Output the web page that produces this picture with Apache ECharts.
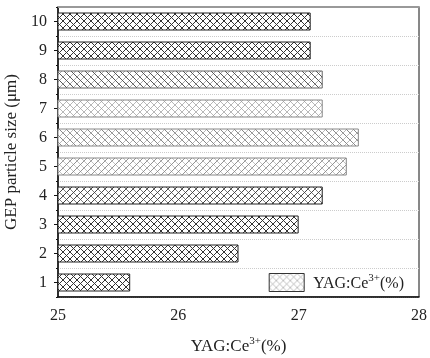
<!DOCTYPE html>
<html>
<head>
<meta charset="utf-8">
<script src="https://cdn.jsdelivr.net/npm/echarts@6/dist/echarts.min.js"></script>
<style>
  html, body { margin: 0; padding: 0; background: #fff; }
  #main { width: 430px; height: 358px; }
</style>
</head>
<body>
<div id="main"></div>
<script>
// GEP particle size (um) on the y axis, YAG:Ce3+ content on the x axis
const sizes = ['1', '2', '3', '4', '5', '6', '7', '8', '9', '10'];
const yagValues = [25.6, 26.5, 27.0, 27.2, 27.4, 27.5, 27.2, 27.2, 27.1, 27.1];
const xTicks = [25, 26, 27, 28];

const FONT = '"Liberation Serif", "DejaVu Serif", serif';

// hatch fill, fwd / back = strength of "/" and "\" lines
function hatch(fwd, back, color) {
    const n = 7;
    const c = document.createElement('canvas');
    c.width = n; c.height = n;
    const ctx = c.getContext('2d');
    ctx.fillStyle = '#fff';
    ctx.fillRect(0, 0, n, n);
    ctx.strokeStyle = color;
    ctx.lineWidth = 1;
    if (fwd > 0) {
        ctx.globalAlpha = fwd;
        ctx.beginPath();
        ctx.moveTo(-1, n + 1); ctx.lineTo(n + 1, -1);
        ctx.stroke();
    }
    if (back > 0) {
        ctx.globalAlpha = back;
        ctx.beginPath();
        ctx.moveTo(-1, -1); ctx.lineTo(n + 1, n + 1);
        ctx.stroke();
    }
    return { image: c, repeat: 'repeat' };
}

// look of each bar, bottom (1) to top (10)
const barLook = [
    [1, 1, '#333', '#222'],
    [1, 1, '#333', '#222'],
    [1, 1, '#333', '#222'],
    [1, 0.7, '#444', '#222'],
    [0.9, 0.5, '#888', '#888'],
    [0.6, 1, '#888', '#888'],
    [0.7, 0.7, '#999', '#888'],
    [0.5, 1, '#555', '#666'],
    [1, 1, '#333', '#222'],
    [1, 1, '#333', '#222']
];

const barData = yagValues.map((v, i) => ({
    value: v,
    itemStyle: {
        color: hatch(barLook[i][0], barLook[i][1], barLook[i][2]),
        borderColor: barLook[i][3],
        borderWidth: 1
    }
}));

// rich text pieces for "YAG:Ce3+(%)" with a raised 3+
const richText = (size) => ({
    b: { fontFamily: FONT, fontSize: size, color: '#222', lineHeight: 19, verticalAlign: 'bottom' },
    sup: { fontFamily: FONT, fontSize: 11, color: '#222', lineHeight: 12, verticalAlign: 'top' }
});
const yagLabel = '{b|YAG:Ce}{sup|3+}{b|(%)}';

const chart = echarts.init(document.getElementById('main'));

const option = {
    animation: false,
    backgroundColor: '#fff',
    grid: {
        left: 58, right: 11, top: 7, bottom: 61,
        outerBoundsMode: 'none',
        containLabel: false,
        show: true, borderColor: '#111', borderWidth: 1
    },
    legend: {
        right: 26, bottom: 66,
        itemWidth: 35, itemHeight: 18,
        icon: 'rect',
        padding: 0,
        textStyle: {
            fontFamily: FONT, fontSize: 16, color: '#222',
            padding: [0, 0, 0, 4],
            rich: richText(16)
        },
        formatter: () => yagLabel,
        data: [{
            name: 'YAG:Ce3+(%)',
            itemStyle: { color: hatch(0.6, 0.6, '#999'), borderColor: '#333', borderWidth: 1 }
        }]
    },
    xAxis: [{
        type: 'value',
        min: xTicks[0], max: xTicks[xTicks.length - 1], interval: 1,
        name: yagLabel,
        nameLocation: 'middle',
        nameGap: 39,
        nameTextStyle: {
            fontFamily: FONT, fontSize: 17, color: '#222',
            rich: richText(17)
        },
        axisLine: { show: true, lineStyle: { color: '#111', width: 1.5 } },
        axisTick: { show: false },
        splitLine: { show: false },
        axisLabel: { fontFamily: FONT, fontSize: 16, color: '#222', margin: 11 }
    }, {
        type: 'value',
        position: 'top',
        min: xTicks[0], max: xTicks[xTicks.length - 1], interval: 1,
        axisLine: { show: true, lineStyle: { color: '#999', width: 2 } },
        axisTick: { show: false },
        axisLabel: { show: false },
        splitLine: { show: false }
    }],
    yAxis: [{
        type: 'category',
        data: sizes,
        name: 'GEP particle size (μm)',
        nameLocation: 'middle',
        nameGap: 35,
        nameTextStyle: { fontFamily: FONT, fontSize: 17, color: '#222' },
        axisLine: { show: true, lineStyle: { color: '#111', width: 1.5 } },
        axisTick: { show: true, alignWithLabel: true, length: 4, lineStyle: { color: '#111' } },
        axisLabel: { fontFamily: FONT, fontSize: 16, color: '#222', margin: 11 },
        splitLine: { show: true, lineStyle: { color: '#ccc', type: 'dotted' } }
    }, {
        // short ticks between categories
        type: 'category',
        data: sizes,
        position: 'left',
        axisLine: { show: false },
        axisTick: { show: true, length: 2, lineStyle: { color: '#111' } },
        axisLabel: { show: false },
        splitLine: { show: false }
    }],
    series: [{
        name: 'YAG:Ce3+(%)',
        type: 'bar',
        barWidth: 18,
        data: barData,
        itemStyle: {
            color: hatch(0.6, 0.6, '#999'),
            borderColor: '#333',
            borderWidth: 1
        }
    }]
};

chart.setOption(option);
</script>
</body>
</html>
